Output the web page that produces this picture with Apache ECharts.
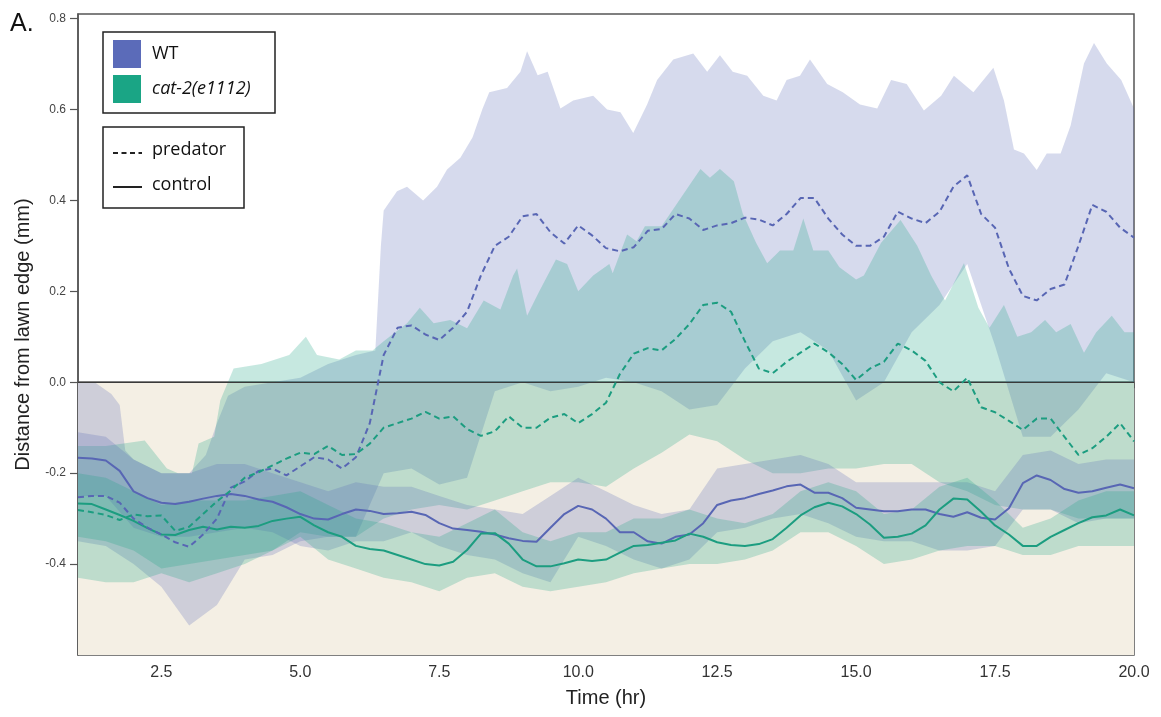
<!DOCTYPE html>
<html><head><meta charset="utf-8">
<script src="https://cdn.jsdelivr.net/npm/echarts@6/dist/echarts.min.js"></script>
<style>html,body{margin:0;padding:0;background:#fff}#chart{width:1161px;height:717px}</style>
</head><body><div id="chart"></div>
<script>
// time grid for mean lines (hours)
const T = [1,1.25,1.5,1.75,2,2.25,2.5,2.75,3,3.25,3.5,3.75,4,4.25,4.5,4.75,5,5.25,5.5,5.75,6,6.25,6.5,6.75,7,7.25,7.5,7.75,8,8.25,8.5,8.75,9,9.25,9.5,9.75,10,10.25,10.5,10.75,11,11.25,11.5,11.75,12,12.25,12.5,12.75,13,13.25,13.5,13.75,14,14.25,14.5,14.75,15,15.25,15.5,15.75,16,16.25,16.5,16.75,17,17.25,17.5,17.75,18,18.25,18.5,18.75,19,19.25,19.5,19.75,20];
// time grid for shaded band edges
const TB = [1,1.5,2,2.5,3,3.5,4,4.5,5,5.5,6,6.5,7,7.5,8,8.5,9,9.5,10,10.5,11,11.5,12,12.5,13,13.5,14,14.5,15,15.5,16,16.5,17,17.5,18,18.5,19,19.5,20];

const wtPred = [-0.253,-0.25,-0.25,-0.265, -0.30,-0.32,-0.335,-0.352, -0.362,-0.335,-0.30,-0.232, -0.218,-0.195,-0.19,-0.205, -0.185,-0.165,-0.17,-0.19, -0.165,-0.09,0.06,0.12, 0.125,0.105,0.093,0.12, 0.155,0.235,0.30,0.32, 0.365,0.37,0.33,0.305, 0.345,0.323,0.295,0.288, 0.297,0.333,0.337,0.37, 0.36,0.335,0.345,0.35, 0.362,0.358,0.345,0.37, 0.405,0.405,0.36,0.325, 0.30,0.30,0.32,0.375, 0.36,0.35,0.375,0.43, 0.455,0.37,0.34,0.25, 0.19,0.18,0.205,0.215, 0.30,0.39,0.375,0.34, 0.318];
const wtCtrl = [-0.166,-0.168,-0.172,-0.195, -0.24,-0.255,-0.265,-0.268, -0.263,-0.256,-0.25,-0.246, -0.25,-0.258,-0.263,-0.275, -0.29,-0.3,-0.302,-0.29, -0.28,-0.283,-0.29,-0.288, -0.285,-0.292,-0.31,-0.322, -0.325,-0.329,-0.335,-0.343, -0.349,-0.351,-0.32,-0.29, -0.272,-0.28,-0.3,-0.33, -0.33,-0.35,-0.355,-0.34, -0.335,-0.31,-0.27,-0.26, -0.255,-0.246,-0.238,-0.229, -0.225,-0.243,-0.243,-0.255, -0.276,-0.28,-0.284,-0.284, -0.28,-0.28,-0.29,-0.296, -0.286,-0.298,-0.302,-0.277, -0.222,-0.205,-0.215,-0.235, -0.243,-0.24,-0.232,-0.225, -0.233];
const catPred = [-0.281,-0.286,-0.292,-0.303, -0.291,-0.295,-0.293,-0.327, -0.318,-0.29,-0.262,-0.238, -0.21,-0.198,-0.183,-0.168, -0.155,-0.158,-0.14,-0.16, -0.158,-0.135,-0.1,-0.09, -0.08,-0.065,-0.08,-0.075, -0.103,-0.118,-0.108,-0.075, -0.1,-0.1,-0.078,-0.07, -0.09,-0.07,-0.045,0.018, 0.063,0.075,0.07,0.095, 0.128,0.17,0.175,0.155, 0.09,0.03,0.02,0.045, 0.065,0.085,0.066,0.04, 0.005,0.03,0.045,0.085, 0.07,0.047,0.0,-0.02, 0.01,-0.055,-0.066,-0.085, -0.105,-0.08,-0.08,-0.12, -0.16,-0.145,-0.12,-0.09, -0.13];
const catCtrl = [-0.267,-0.268,-0.28,-0.292, -0.305,-0.321,-0.335,-0.336, -0.325,-0.318,-0.324,-0.318, -0.32,-0.316,-0.305,-0.3, -0.296,-0.315,-0.33,-0.34, -0.36,-0.367,-0.37,-0.38, -0.39,-0.4,-0.403,-0.395, -0.369,-0.333,-0.332,-0.355, -0.39,-0.405,-0.405,-0.398, -0.39,-0.393,-0.39,-0.375, -0.36,-0.358,-0.353,-0.348, -0.333,-0.34,-0.352,-0.358, -0.36,-0.356,-0.345,-0.32, -0.293,-0.275,-0.265,-0.273, -0.29,-0.313,-0.342,-0.34, -0.333,-0.315,-0.28,-0.256, -0.258,-0.285,-0.315,-0.335, -0.36,-0.36,-0.34,-0.325, -0.31,-0.297,-0.293,-0.28, -0.293];

// WT predator band upper edge (own time points)
const wtPredHiT = [1,1.3,1.6,1.75,1.85,2,2.5,3,3.3,3.5,3.7,4,4.5,5,5.5,6,6.35,6.45,6.5,6.74,6.92,7.21,7.46,7.64,7.88,8.1,8.28,8.4,8.72,8.96,9.08,9.27,9.45,9.68,9.91,10.27,10.52,10.76,10.99,11.24,11.42,11.71,12.07,12.32,12.55,12.78,13.04,13.33,13.57,13.75,13.99,14.17,14.48,14.76,15.07,15.38,15.63,15.91,16.22,16.53,16.76,17.11,17.47,17.66,17.84,18.02,18.25,18.43,18.68,18.86,19.1,19.28,19.51,19.77,20];
const wtPredHi = [0.0,0.0,-0.026,-0.05,-0.15,-0.17,-0.2,-0.2,-0.16,-0.09,-0.03,-0.01,0.0,0.01,0.04,0.06,0.07,0.3,0.378,0.42,0.43,0.40,0.43,0.468,0.494,0.539,0.602,0.638,0.647,0.683,0.728,0.675,0.683,0.602,0.62,0.63,0.60,0.594,0.548,0.611,0.665,0.71,0.723,0.683,0.719,0.683,0.674,0.63,0.62,0.665,0.674,0.71,0.656,0.638,0.611,0.602,0.665,0.656,0.598,0.63,0.674,0.638,0.692,0.62,0.512,0.503,0.467,0.503,0.503,0.565,0.701,0.746,0.701,0.665,0.602];
const wtPredLo = [-0.35,-0.36,-0.40,-0.45,-0.535,-0.49,-0.39,-0.38,-0.35,-0.34, -0.34,-0.2,-0.19,-0.225,-0.21,-0.02,0.0,-0.02,-0.01,0.01, 0.0,-0.02,-0.06,-0.05,0.03,0.09,0.11,0.07,-0.04,0.0, 0.11,0.17,0.26,0.08,-0.12,-0.12,-0.06,0.02,0.0];
// cat-2 predator band upper edge (own time points)
const catPredHiT = [1,1.5,2.2,2.6,2.8,3.05,3.17,3.45,3.56,3.8,4.3,4.8,5.1,5.3,5.7,6,6.3,6.5,6.92,7.15,7.4,7.7,8,8.3,8.6,8.83,8.9,9.08,9.3,9.6,9.8,10,10.27,10.56,10.62,10.88,11.05,11.2,11.5,11.9,12.2,12.37,12.55,12.8,12.96,13.2,13.4,13.63,13.87,14.05,14.23,14.5,14.7,15,15.14,15.45,15.8,16.1,16.35,16.6,16.94,17.2,17.4,17.66,17.9,18.15,18.4,18.6,18.86,19.1,19.32,19.6,19.83,20];
const catPredHi = [-0.14,-0.14,-0.128,-0.19,-0.2,-0.2,-0.135,-0.12,-0.04,0.03,0.04,0.06,0.1,0.06,0.05,0.07,0.07,0.09,0.13,0.164,0.13,0.137,0.119,0.18,0.16,0.235,0.25,0.146,0.2,0.27,0.26,0.2,0.235,0.26,0.24,0.325,0.31,0.343,0.343,0.415,0.469,0.45,0.469,0.442,0.371,0.307,0.262,0.29,0.29,0.36,0.29,0.29,0.253,0.226,0.235,0.307,0.357,0.3,0.235,0.18,0.262,0.164,0.12,0.17,0.1,0.11,0.137,0.11,0.128,0.065,0.11,0.146,0.11,0.11];
const catPredLo = [-0.43,-0.44,-0.44,-0.42,-0.44,-0.42,-0.40,-0.37,-0.33,-0.34, -0.34,-0.30,-0.28,-0.27,-0.28,-0.26,-0.24,-0.22,-0.22,-0.23, -0.19,-0.155,-0.115,-0.13,-0.17,-0.2,-0.2,-0.19,-0.19,-0.18, -0.18,-0.22,-0.24,-0.27,-0.28,-0.28,-0.3,-0.3,-0.3];
const wtCtrlHi = [-0.11,-0.12,-0.17,-0.2,-0.2,-0.18,-0.18,-0.2,-0.22,-0.24, -0.22,-0.23,-0.23,-0.25,-0.27,-0.28,-0.29,-0.25,-0.21,-0.24, -0.27,-0.29,-0.28,-0.19,-0.18,-0.17,-0.16,-0.18,-0.22,-0.22, -0.22,-0.22,-0.22,-0.24,-0.16,-0.15,-0.18,-0.17,-0.17];
const wtCtrlLo = [-0.25,-0.25,-0.32,-0.34,-0.34,-0.33,-0.32,-0.33,-0.36,-0.37, -0.35,-0.35,-0.33,-0.36,-0.38,-0.39,-0.42,-0.44,-0.34,-0.36, -0.39,-0.41,-0.39,-0.33,-0.32,-0.3,-0.29,-0.31,-0.34,-0.35, -0.35,-0.37,-0.37,-0.36,-0.28,-0.28,-0.31,-0.3,-0.3];
const catCtrlHi = [-0.2,-0.21,-0.24,-0.27,-0.26,-0.26,-0.26,-0.25,-0.24,-0.27, -0.3,-0.31,-0.33,-0.34,-0.31,-0.28,-0.33,-0.35,-0.33,-0.33, -0.3,-0.3,-0.28,-0.3,-0.31,-0.29,-0.24,-0.22,-0.24,-0.29, -0.28,-0.23,-0.21,-0.26,-0.32,-0.3,-0.26,-0.24,-0.24];
const catCtrlLo = [-0.34,-0.35,-0.37,-0.41,-0.4,-0.39,-0.38,-0.37,-0.34,-0.39, -0.41,-0.43,-0.44,-0.46,-0.43,-0.42,-0.45,-0.46,-0.45,-0.44, -0.42,-0.41,-0.4,-0.4,-0.39,-0.37,-0.33,-0.33,-0.36,-0.4, -0.39,-0.37,-0.36,-0.36,-0.38,-0.38,-0.36,-0.36,-0.36];

const xTicks = [2.5,5,7.5,10,12.5,15,17.5,20];
const yTicks = [-0.4,-0.2,0,0.2,0.4,0.6,0.8];

const WT = '#5866b4', CAT = '#1c9d80';
const WT_BAND = 'rgba(90,106,184,0.25)', CAT_BAND = 'rgba(27,163,131,0.25)';

function pairs(xs, ys){ return xs.map((x,i)=>[x, ys[i]]); }
function band(id, hiT, hi, loT, lo, color){
  return {
    name: id, type:'custom', silent:true, z:2,
    data: [[loT[0], lo[0]]],
    renderItem: function(params, api){
      const pts = [];
      for (let i = 0; i < hiT.length; i++) pts.push(api.coord([hiT[i], hi[i]]));
      for (let i = loT.length - 1; i >= 0; i--) pts.push(api.coord([loT[i], lo[i]]));
      return {type:'polygon', shape:{points:pts}, style:{fill:color}};
    }
  };
}
function meanLine(name, ys, color, dashed){
  return {name, type:'line', data: pairs(T, ys), symbol:'none', silent:true, z:6,
    lineStyle:{color, width:2, type: dashed ? [6,4] : 'solid'}};
}

const AX = 'Liberation Sans, Arial, sans-serif';
const LG = 'Open Sans, sans-serif';

const chart = echarts.init(document.getElementById('chart'), null, {renderer:'canvas'});
chart.setOption({
  animation:false,
  backgroundColor:'#ffffff',
  grid:{left:78, right:27, top:14, bottom:62, show:true, borderColor:'#555', borderWidth:1.5, backgroundColor:'transparent'},
  xAxis:{type:'value', min:1, max:20,
    name:'Time (hr)', nameLocation:'middle', nameGap:33,
    nameTextStyle:{fontSize:20, color:'#222', fontFamily:AX},
    axisLine:{show:true, lineStyle:{color:'#555', width:1.5}},
    axisTick:{show:true, length:6, customValues:xTicks, lineStyle:{color:'#555', width:1.5}},
    axisLabel:{customValues:xTicks, margin:10, fontSize:16, color:'#333', fontFamily:AX, formatter:v=>v.toFixed(1)},
    splitLine:{show:false}},
  yAxis:{type:'value', min:-0.6, max:0.81,
    name:'Distance from lawn edge (mm)', nameLocation:'middle', nameGap:45,
    nameTextStyle:{fontSize:20, color:'#222', fontFamily:AX},
    axisLine:{show:true, lineStyle:{color:'#555', width:1.5}},
    axisTick:{show:true, length:8, customValues:yTicks, lineStyle:{color:'#555', width:1.2}},
    axisLabel:{customValues:yTicks, margin:12, fontSize:12, color:'#444', fontFamily:AX, formatter:v=>v.toFixed(1)},
    splitLine:{show:false}},
  series:[
    {name:'bg', type:'line', data:[[1,-0.6]], symbol:'none', silent:true, z:0, lineStyle:{opacity:0},
      markArea:{silent:true, itemStyle:{color:'#f4efe4'}, data:[[{yAxis:-0.6},{yAxis:0}]]}},
    band('wtPredBand', wtPredHiT, wtPredHi, TB, wtPredLo, WT_BAND),
    band('catPredBand', catPredHiT, catPredHi, TB, catPredLo, CAT_BAND),
    band('wtCtrlBand', TB, wtCtrlHi, TB, wtCtrlLo, WT_BAND),
    band('catCtrlBand', TB, catCtrlHi, TB, catCtrlLo, CAT_BAND),
    {name:'zero', type:'line', data:[[1,0]], symbol:'none', silent:true, z:5, lineStyle:{opacity:0},
      markLine:{silent:true, symbol:['none','none'], label:{show:false}, animation:false,
        lineStyle:{color:'#3a3a3a', width:1.2, type:'solid'}, data:[{yAxis:0}]}},
    meanLine('WT control', wtCtrl, WT, false),
    meanLine('cat-2 control', catCtrl, CAT, false),
    meanLine('WT predator', wtPred, WT, true),
    meanLine('cat-2 predator', catPred, CAT, true)
  ],
  graphic:[
    {type:'text', left:10, top:12, z:100, style:{text:'A.', fontSize:25, fill:'#111', fontFamily:AX}},
    {type:'rect', z:100, shape:{x:103, y:32, width:172, height:81}, style:{fill:'#fff', stroke:'#222', lineWidth:1.5}},
    {type:'rect', z:101, shape:{x:113, y:40, width:28, height:28}, style:{fill:'#5b6bb9'}},
    {type:'rect', z:101, shape:{x:113, y:75, width:28, height:28}, style:{fill:'#1aa585'}},
    {type:'text', z:101, x:152, y:54, style:{text:'WT', fontSize:18, fill:'#111', fontFamily:LG, verticalAlign:'middle'}},
    {type:'text', z:101, x:152, y:89, style:{text:'cat-2(e1112)', fontSize:18, fontStyle:'italic', fill:'#111', fontFamily:LG, verticalAlign:'middle'}},
    {type:'rect', z:100, shape:{x:103, y:127, width:141, height:81}, style:{fill:'#fff', stroke:'#222', lineWidth:1.5}},
    {type:'line', z:101, shape:{x1:113, y1:153, x2:142, y2:153}, style:{stroke:'#222', lineWidth:2, lineDash:[5,3.5]}},
    {type:'text', z:101, x:152, y:150, style:{text:'predator', fontSize:18, fill:'#111', fontFamily:LG, verticalAlign:'middle'}},
    {type:'line', z:101, shape:{x1:113, y1:187, x2:142, y2:187}, style:{stroke:'#222', lineWidth:2}},
    {type:'text', z:101, x:152, y:185, style:{text:'control', fontSize:18, fill:'#111', fontFamily:LG, verticalAlign:'middle'}}
  ]
});
</script>
</body></html>
